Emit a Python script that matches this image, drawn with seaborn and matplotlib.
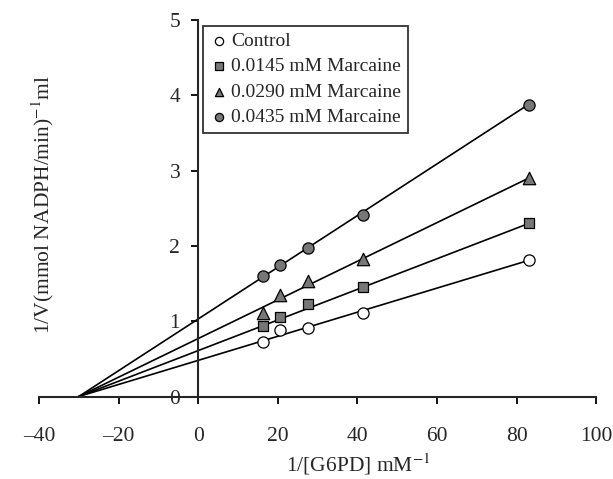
import numpy as np
import pandas as pd
import seaborn as sns
import matplotlib.pyplot as plt

# 1/[G6PD] values (mM^-1) and 1/V readings per series
inv_s = [16.2, 20.5, 27.6, 41.4, 83.0]
series = ["Control", "0.0145 mM Marcaine", "0.0290 mM Marcaine", "0.0435 mM Marcaine"]
control = [0.73, 0.88, 0.91, 1.11, 1.81]
marc_0145 = [0.93, 1.06, 1.23, 1.46, 2.31]
marc_0290 = [1.11, 1.35, 1.54, 1.82, 2.90]
marc_0435 = [1.60, 1.74, 1.97, 2.41, 3.87]

# fitted lines: common x intercept, y intercepts
x_intercept = -30
y_intercepts = [0.48, 0.61, 0.77, 1.03]

sns.set_style("ticks")
plt.rcParams["font.family"] = ["Liberation Serif", "DejaVu Serif"]
plt.rcParams["mathtext.fontset"] = "stix"

fig = plt.figure(figsize=(6.13, 4.79), dpi=100)
ax = fig.add_axes([0.0636, 0.1722, 0.9092, 0.786])

styles = {
    "Control": dict(marker="o", color="white", s=65),
    "0.0145 mM Marcaine": dict(marker="s", color="#777777", s=60),
    "0.0290 mM Marcaine": dict(marker="^", color="#777777", s=80),
    "0.0435 mM Marcaine": dict(marker="o", color="#777777", s=65),
}
values = [control, marc_0145, marc_0290, marc_0435]

for name, vals, b in zip(series, values, y_intercepts):
    slope = b / -x_intercept
    xs = [x_intercept, inv_s[-1]]
    ax.plot(xs, [0, b + slope * inv_s[-1]], color="black", lw=1.2, zorder=2)

for name, vals in zip(series, values):
    df = pd.DataFrame({"x": inv_s, "y": vals})
    st = styles[name]
    sns.scatterplot(data=df, x="x", y="y", ax=ax, marker=st["marker"],
                    color=st["color"], s=st["s"], edgecolor="black",
                    linewidth=0.9, label=name, zorder=3)

ax.set_xlim(-40, 100)
ax.set_ylim(0, 5)
ax.set_xticks(np.arange(-40, 101, 20))
ax.set_xticklabels(["\u201340", "\u201320", "0", "20", "40", "60", "80", "100"])
ax.set_yticks(range(0, 6))

ax.spines["left"].set_position(("data", 0))
ax.spines["bottom"].set_position(("data", 0))
ax.spines["top"].set_visible(False)
ax.spines["right"].set_visible(False)
for sp in ["left", "bottom"]:
    ax.spines[sp].set_linewidth(1.5)
ax.tick_params(axis="both", labelsize=15.5, width=1.3, length=5, color="black")
ax.tick_params(axis="x", pad=17)
ax.tick_params(axis="y", pad=8)

ax.set_xlabel("1/[G6PD] mM$^{-1}$", fontsize=15.5)
ax.xaxis.set_label_coords(0.573, -0.145)
ax.set_ylabel("1/V(mmol NADPH/min)$^{-1}$ml", fontsize=15.5)
ax.yaxis.set_label_coords(0.03, 0.51)

leg = ax.legend(loc="upper left", bbox_to_anchor=(0.294, 0.985), fontsize=14,
                frameon=True, fancybox=False, edgecolor="black",
                handletextpad=0.1, handlelength=1.0, borderpad=0.35,
                labelspacing=0.4, borderaxespad=0)
leg.get_frame().set_linewidth(1.3)
for h in leg.legend_handles:
    h.set_sizes([35])

fig.savefig("out.png", dpi=100)
